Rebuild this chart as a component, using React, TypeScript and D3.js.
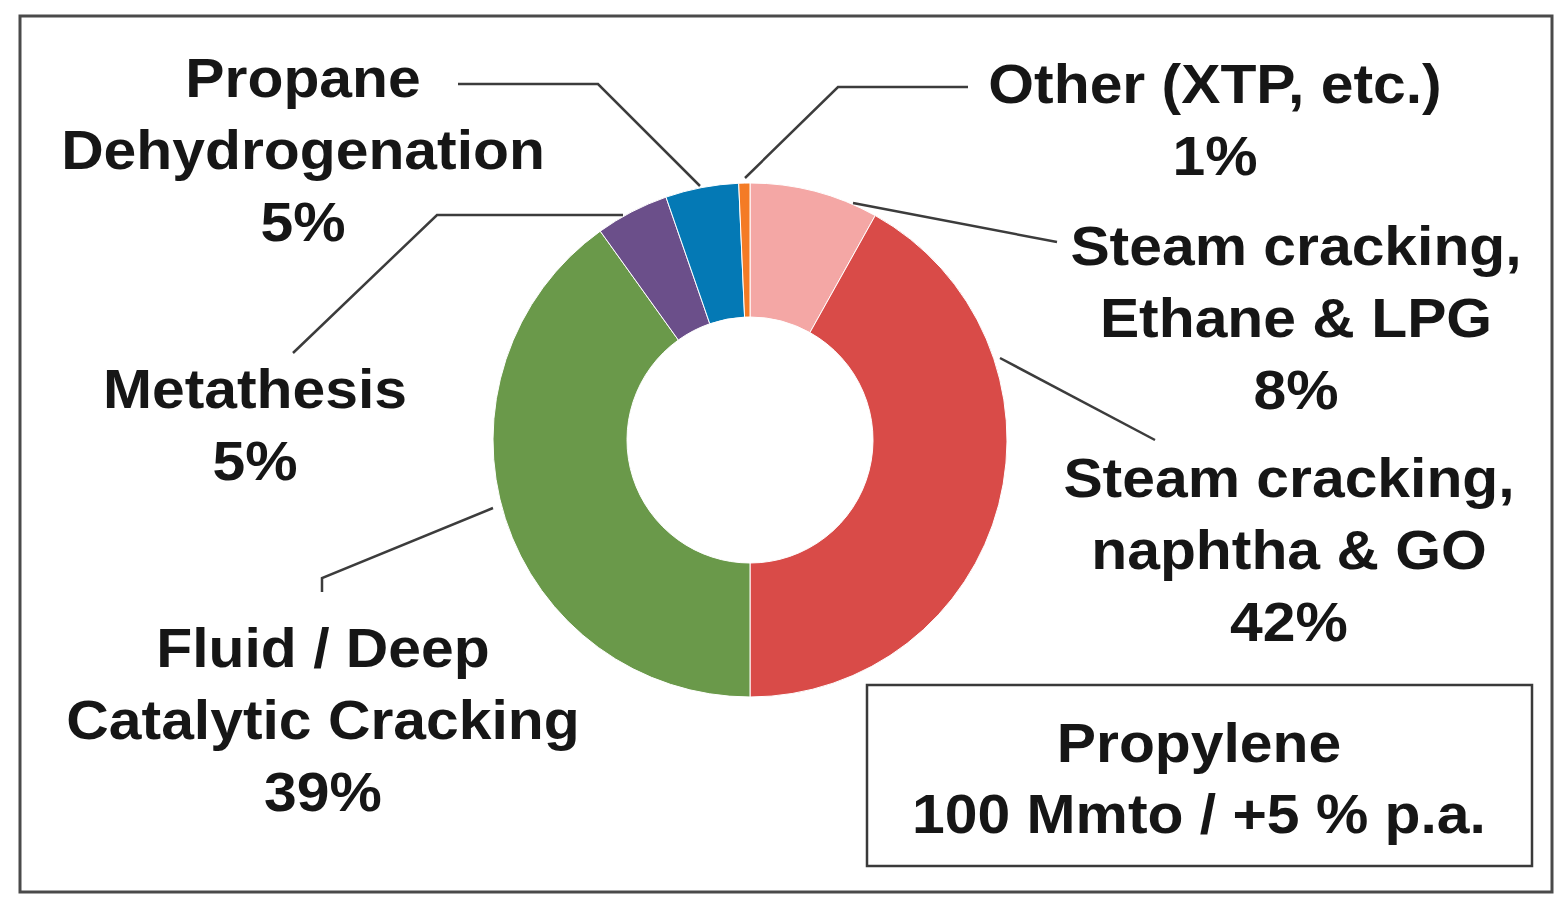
import React from "react";
import * as d3 from "d3";

const categories = [
  "Steam cracking, Ethane & LPG",
  "Steam cracking, naphtha & GO",
  "Fluid / Deep Catalytic Cracking",
  "Metathesis",
  "Propane Dehydrogenation",
  "Other (XTP, etc.)",
];
const shares = [8.1, 41.9, 40.1, 4.6, 4.6, 0.7];
const colors = ["#F4A7A5", "#D94B48", "#6A994A", "#6B4F8A", "#0479B5", "#F47B25"];

// label lines (text) per category
const labelLines = [
  ["Steam cracking,", "Ethane & LPG", "8%"],
  ["Steam cracking,", "naphtha & GO", "42%"],
  ["Fluid / Deep", "Catalytic Cracking", "39%"],
  ["Metathesis", "5%"],
  ["Propane", "Dehydrogenation", "5%"],
  ["Other (XTP, etc.)", "1%"],
];
const boxLines = ["Propylene", "100 Mmto / +5 % p.a."];

const W = 1565;
const H = 914;
const cx = 750;
const cy = 440;
const rOuter = 257;
const rInner = 123;
const fontSize = 55;
const lineH = 72;

// label anchor positions (center x, first baseline y)
const labelPos: [number, number][] = [
  [1296, 265],
  [1289, 497],
  [323, 667],
  [255, 408],
  [303, 97],
  [1215, 103],
];
// leader polylines
const leaders: [number, number][][] = [
  [[853, 203], [1057, 242]],
  [[1000, 358], [1155, 440]],
  [[493, 508], [322, 578], [322, 592]],
  [[623, 215], [437, 215], [293, 353]],
  [[700, 186], [598, 84], [458, 84]],
  [[745, 178], [838, 87], [968, 87]],
];

export default function App() {
  const pie = d3
    .pie<number>()
    .sort(null)
    .value((d) => d)
    .startAngle(0)
    .endAngle(2 * Math.PI);
  const arcs = pie(shares);
  const arc = d3.arc<d3.PieArcDatum<number>>().innerRadius(rInner).outerRadius(rOuter);
  const line = d3.line();
  const txt = (s: string, x: number, y: number, key: string) => (
    <g key={key} transform={`translate(${x},${y}) scale(1.07,1)`}>
      <text
        textAnchor="middle"
        fontFamily="'Liberation Sans', Arial, sans-serif"
        fontWeight="bold"
        fontSize={fontSize}
        fill="#161616"
      >
        {s}
      </text>
    </g>
  );
  return (
    <svg width={W} height={H} style={{ position: "absolute", left: 0, top: 0 }}>
      <rect x={0} y={0} width={W} height={H} fill="#ffffff" />
      <rect x={20} y={16} width={1532} height={876} fill="none" stroke="#4a4a4a" strokeWidth={3} />
      <g transform={`translate(${cx},${cy})`}>
        {arcs.map((a, i) => (
          <path key={categories[i]} d={arc(a) || ""} fill={colors[i]} stroke="#ffffff" strokeWidth={1} />
        ))}
      </g>
      {leaders.map((pts, i) => (
        <path key={"l" + i} d={line(pts) || ""} fill="none" stroke="#3c3c3c" strokeWidth={2.5} />
      ))}
      {labelLines.map((lines, i) =>
        lines.map((s, j) => txt(s, labelPos[i][0], labelPos[i][1] + j * lineH, `t${i}-${j}`))
      )}
      <rect x={867} y={685} width={665} height={181} fill="#ffffff" stroke="#3a3a3a" strokeWidth={2.5} />
      {boxLines.map((s, j) => txt(s, 1199, 762 + j * 71, `b${j}`))}
    </svg>
  );
}
